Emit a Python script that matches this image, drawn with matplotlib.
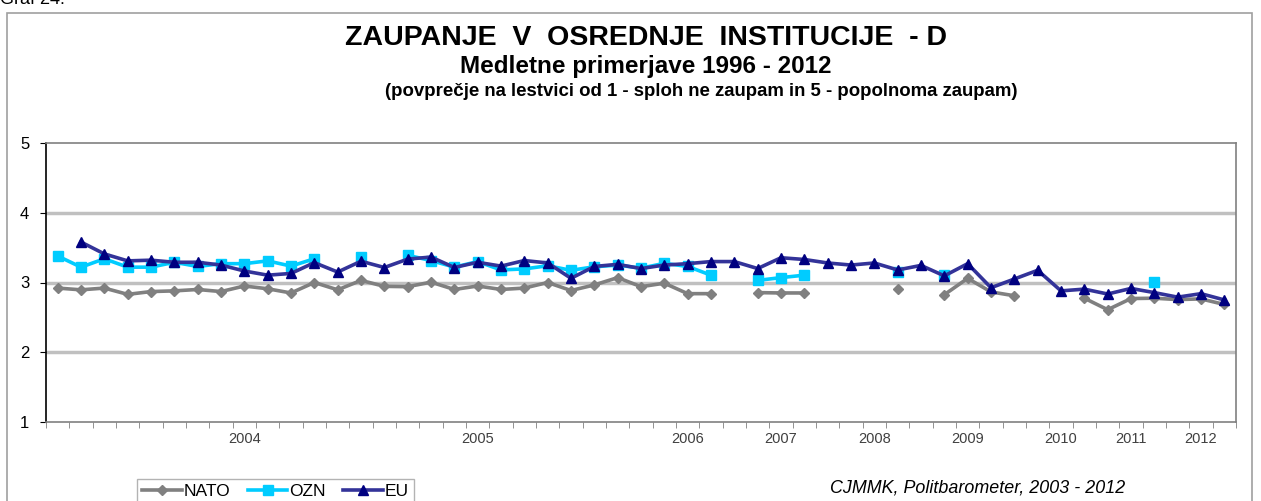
import numpy as np
import matplotlib
matplotlib.use("Agg")
import matplotlib.pyplot as plt
from matplotlib.patches import Rectangle

plt.rcParams['font.family'] = ['Liberation Sans', 'DejaVu Sans']

nan = np.nan

# one value per survey (51 surveys), nan = no data
nato = [2.92, 2.895, 2.92, 2.83, 2.87, 2.88, 2.90, 2.87, 2.95, 2.91,
        2.85, 3.00, 2.895, 3.03, 2.945, 2.94, 3.005, 2.90, 2.95, 2.90,
        2.92, 3.00, 2.885, 2.965, 3.07, 2.94, 2.99, 2.84, 2.84, nan,
        2.855, 2.85, 2.85, nan, nan, nan, 2.90, nan, 2.825, 3.06,
        2.865, 2.81, nan, nan, 2.775, 2.61, 2.77, 2.775, 2.755, 2.765,
        2.685]
ozn = [3.38, 3.22, 3.34, 3.22, 3.22, 3.29, 3.23, 3.27, 3.27, 3.31,
       3.235, 3.34, nan, 3.37, nan, 3.39, 3.315, 3.22, 3.30, 3.18,
       3.195, 3.24, 3.175, 3.225, 3.25, 3.205, 3.275, 3.23, 3.105, nan,
       3.03, 3.07, 3.105, nan, nan, nan, 3.15, nan, 3.105, nan,
       nan, nan, nan, nan, nan, nan, nan, 3.01, nan, nan,
       nan]
eu = [nan, 3.58, 3.41, 3.31, 3.32, 3.29, 3.29, 3.25, 3.165, 3.105,
      3.13, 3.285, 3.15, 3.305, 3.215, 3.335, 3.365, 3.215, 3.29, 3.235,
      3.315, 3.28, 3.06, 3.23, 3.26, 3.20, 3.25, 3.27, 3.30, 3.30,
      3.20, 3.355, 3.33, 3.28, 3.25, 3.28, 3.18, 3.245, 3.095, 3.27,
      2.925, 3.05, 3.175, 2.88, 2.905, 2.835, 2.915, 2.855, 2.79, 2.84,
      2.75]

year_pos = [8, 18, 27, 31, 35, 39, 43, 46, 49]
year_labels = ['2004', '2005', '2006', '2007', '2008', '2009', '2010', '2011', '2012']

fig = plt.figure(figsize=(12.61, 5.01), dpi=100)

# outer frame of the chart
fig.patches.append(Rectangle((7 / 1261, -0.05), 1245 / 1261, 1.05 - 13 / 501,
                             transform=fig.transFigure, fill=False,
                             edgecolor='#a0a0a0', linewidth=1.2))

fig.text(0.0, 1.0, 'Graf 24:', fontsize=13, ha='left', va='center')
fig.text(0.512, 1 - 38 / 501, 'ZAUPANJE  V  OSREDNJE  INSTITUCIJE  - D',
         fontsize=20.5, fontweight='bold', ha='center', va='center')
fig.text(0.512, 1 - 67 / 501, 'Medletne primerjave 1996 - 2012',
         fontsize=17.5, fontweight='bold', ha='center', va='center')
fig.text(0.556, 1 - 91 / 501,
         '(povprečje na lestvici od 1 - sploh ne zaupam in 5 - popolnoma zaupam)',
         fontsize=13.4, fontweight='bold', ha='center', va='center')

ax = fig.add_axes([46 / 1261, 1 - 422 / 501, 1190 / 1261, 279 / 501])
x = np.arange(len(eu))

ax.plot(x, nato, color='#808080', lw=2.6, marker='D', ms=5.5, label='NATO', zorder=3)
ax.plot(x, ozn, color='#00ccff', lw=2.6, marker='s', ms=7.5, label='OZN', zorder=4)
ax.plot(x, eu, color='#333399', lw=2.6, marker='^', ms=7.5,
        markerfacecolor='#000080', markeredgecolor='#000080', label='EU', zorder=5)

ax.set_xlim(-0.5, len(eu) - 0.5)
ax.set_ylim(1, 5)
ax.set_yticks([1, 2, 3, 4, 5])
for v in [2, 3, 4]:
    ax.axhline(v, color='#c0c0c0', lw=2.5, zorder=1)

ax.set_xticks(year_pos)
ax.set_xticklabels(year_labels, fontsize=10.5, color='#404040')
ax.set_xticks(np.arange(-0.5, len(eu)), minor=True)
ax.tick_params(axis='x', which='major', length=0, pad=7)
ax.tick_params(axis='x', which='minor', length=4, color='#808080')
ax.tick_params(axis='y', length=4, labelsize=12, pad=8)

ax.spines['left'].set_color('black')
ax.spines['bottom'].set_color('#808080')
ax.spines['top'].set_color('#808080')
ax.spines['right'].set_color('#808080')
for s in ax.spines.values():
    s.set_linewidth(1.2)

leg = fig.legend(loc='upper left', bbox_to_anchor=(128 / 1261, 1 - 470 / 501),
                 ncol=3, fontsize=12.5, frameon=True, fancybox=False,
                 handlelength=2.3, handletextpad=0.1, columnspacing=1.0,
                 borderpad=0.3)
leg.get_frame().set_edgecolor('#a0a0a0')

fig.text(0.775, 1 - 488 / 501, 'CJMMK, Politbarometer, 2003 - 2012',
         fontsize=12.9, style='italic', ha='center', va='center')

fig.savefig('out.png', dpi=100)
